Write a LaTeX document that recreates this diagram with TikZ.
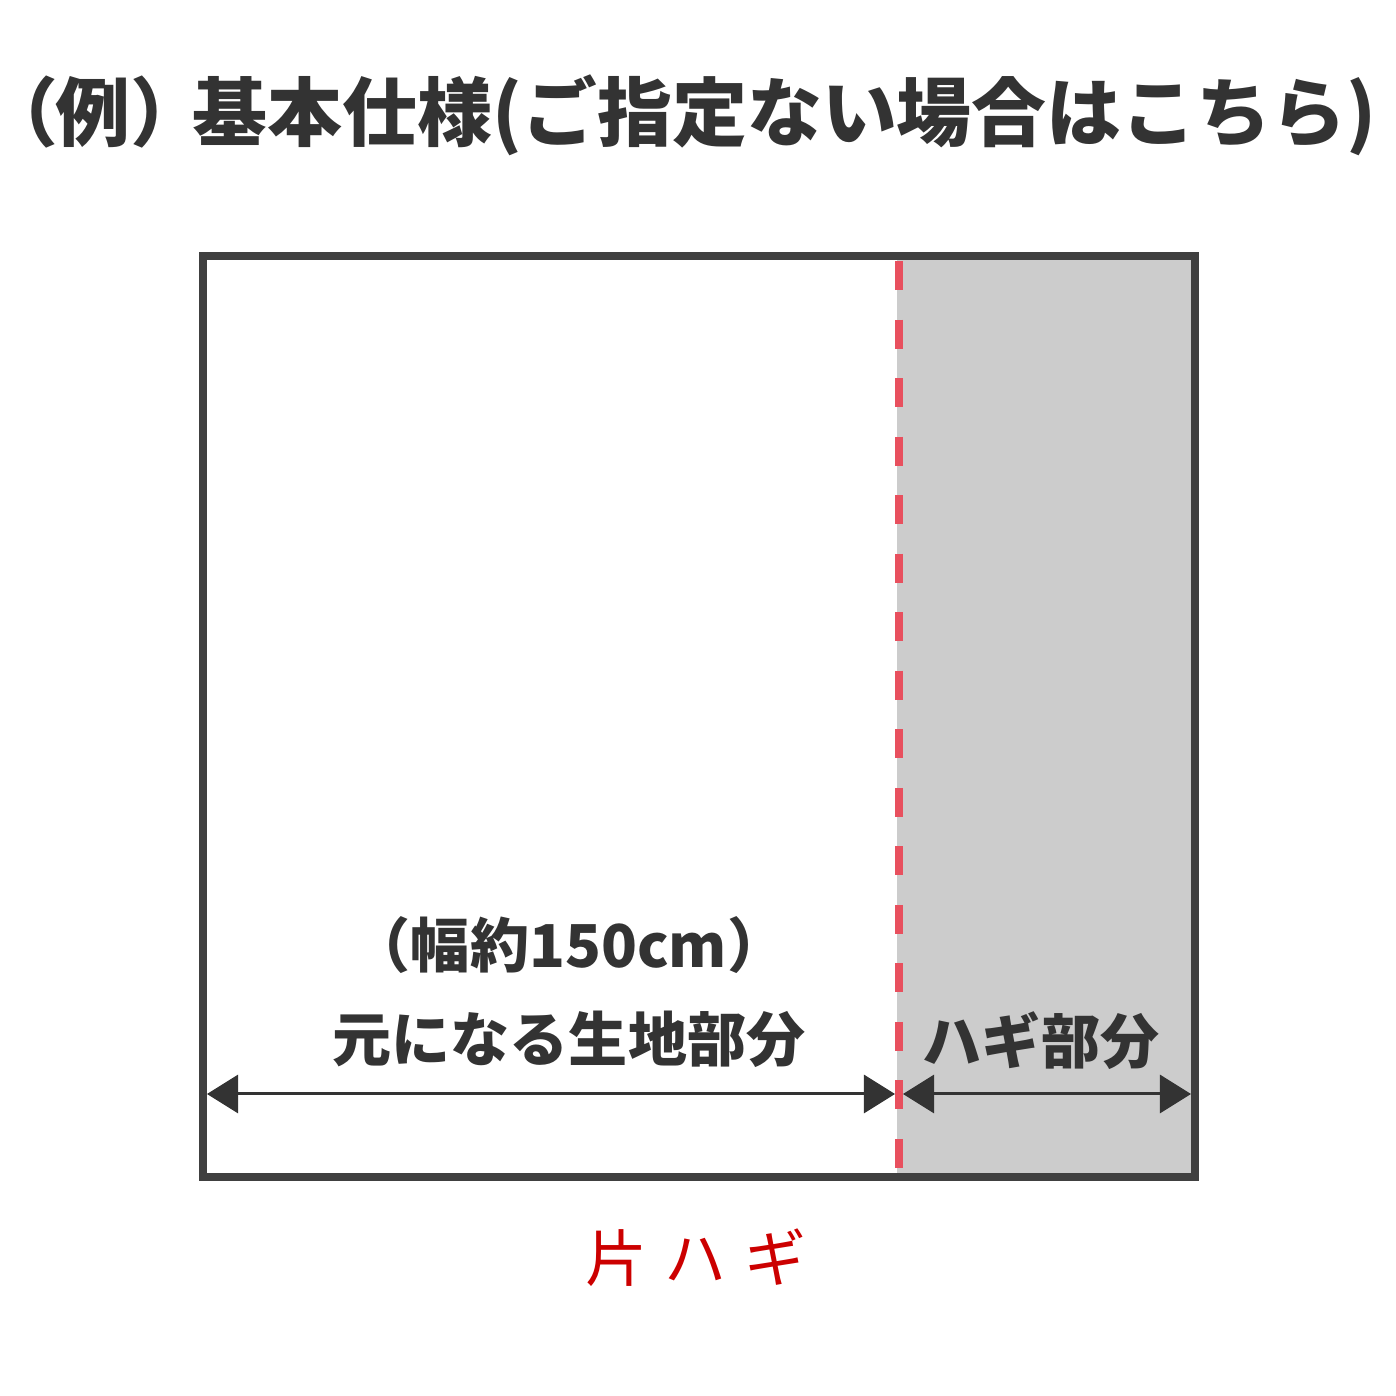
\documentclass[tikz,border=0pt]{standalone}
\usepackage{fontspec}
\usepackage{tikz}
\usetikzlibrary{positioning, arrows.meta}
\usetikzlibrary{calc}
\newfontfamily\jpfont{Noto Sans CJK JP}
\newfontfamily\jpfontP[RawFeature=+palt]{Noto Sans CJK JP}
\definecolor{framegray}{HTML}{404040}
\definecolor{textgray}{HTML}{333333}
\definecolor{hagigray}{HTML}{CCCCCC}
\definecolor{seamred}{HTML}{E8505E}
\definecolor{katared}{HTML}{CC0000}
\tikzstyle{outerframe} = [draw=framegray, line width=0.08cm]
\tikzstyle{hagipart} = [fill=hagigray]
\tikzstyle{seam} = [draw=seamred, line width=0.08cm, dash pattern=on 0.29cm off 0.295cm]
\tikzstyle{dimarrow} = [draw=textgray, line width=0.03cm, {Triangle[length=0.31cm,width=0.38cm]}-{Triangle[length=0.31cm,width=0.38cm]}]
\tikzstyle{titletext} = [text=textgray, inner sep=0pt, font=\jpfont\bfseries\fontsize{21.3pt}{21.3pt}\selectfont]
\tikzstyle{parttext} = [text=textgray, inner sep=0pt, font=\jpfont\bfseries\fontsize{16.8pt}{16.8pt}\selectfont]
\tikzstyle{redtext} = [text=katared, inner sep=0pt, font=\jpfont\fontsize{17.6pt}{17.6pt}\selectfont]
\begin{document}
\begin{tikzpicture}[x=0.01cm, y=0.01cm, node distance=0.94cm]
    \useasboundingbox (0,0) rectangle (1396,1396);
    %标题
    \node (title) [titletext] at (697,1281) {{\jpfontP\bfseries（}例）\kern-0.12cm 基本仕様(ご指定ない場合はこちら)};

    %布料与拼接部分
    \fill [hagipart] (897,223) rectangle (1191,1136);
    \draw [outerframe] (203,219) rectangle (1195,1140);
    \coordinate (seamtop) at (899,1135);
    \coordinate (seambot) at (899,223);
    \draw [seam] (seamtop) -- (seambot);

    %尺寸箭头
    \coordinate (leftend) at (207,302);
    \coordinate (seamL) at (895,302);
    \coordinate (seamR) at (903,302);
    \coordinate (rightend) at (1191,302);
    \draw [dimarrow] (leftend) -- (seamL);
    \draw [dimarrow] (seamR) -- (rightend);

    %文字
    \node (base) [parttext] at (569,357) {元になる生地部分};
    \node (width) [parttext, above of=base] {（幅約150cm）};
    \node (hagi) [parttext] at (1041,355) {ハギ部分};
    \node (katahagi) [redtext] at (696,138) {片\kern0.18cm ハ\kern0.18cm ギ};
\end{tikzpicture}
\end{document}
